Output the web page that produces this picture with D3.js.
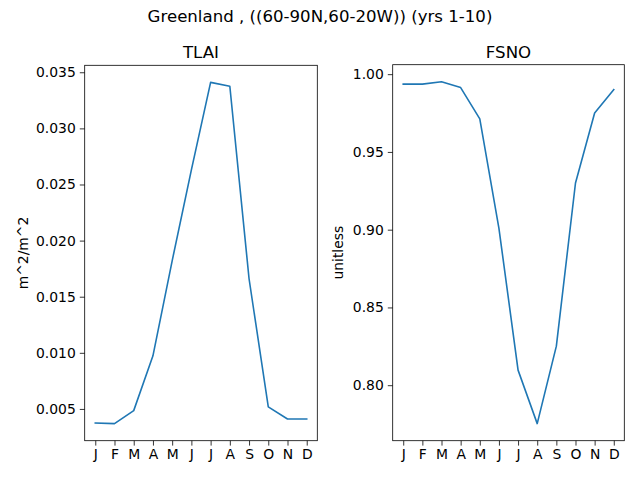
<!DOCTYPE html>
<html>
<head>
<meta charset="utf-8">
<script src="https://cdn.jsdelivr.net/npm/d3@7"></script>
<style>
  body { margin: 0; background: #fff; }
  text { font-family: "DejaVu Sans", sans-serif; fill: #000; }
</style>
</head>
<body>
<div id="chart"></div>
<script>
// monthly climatology, Greenland box
const months = ["J", "F", "M", "A", "M", "J", "J", "A", "S", "O", "N", "D"];
const tlai = [0.00375, 0.00369, 0.00485, 0.00973, 0.0182, 0.0263, 0.0341, 0.03375, 0.0166, 0.00518, 0.0041, 0.0041];
const fsno = [0.9936, 0.9936, 0.9951, 0.9914, 0.9713, 0.9009, 0.8097, 0.7753, 0.8251, 0.930, 0.975, 0.9901];
const tlaiTicks = [0.005, 0.010, 0.015, 0.020, 0.025, 0.030, 0.035];
const fsnoTicks = [0.80, 0.85, 0.90, 0.95, 1.00];

const W = 640, H = 480;
const svg = d3.select("#chart").append("svg")
    .attr("width", W)
    .attr("height", H);

svg.append("text")
    .attr("x", W / 2)
    .attr("y", 22)
    .attr("text-anchor", "middle")
    .attr("font-size", "16.6px")
    .text("Greenland , ((60-90N,60-20W)) (yrs 1-10)");

function panel(opts) {
    const {left, right, top, bottom, values, ticks, fmt, title, ylabel, ylabelX} = opts;

    // matplotlib style 5% margins
    const lo = d3.min(values), hi = d3.max(values), pad = (hi - lo) * 0.05;
    const x = d3.scaleLinear().domain([-0.55, 11.55]).range([left, right]);
    const y = d3.scaleLinear().domain([lo - pad, hi + pad]).range([bottom, top]);

    const g = svg.append("g");

    g.append("g")
        .attr("transform", `translate(0,${bottom})`)
        .call(d3.axisBottom(x).tickValues(d3.range(12))
            .tickFormat(i => months[i]).tickSize(4.9).tickPadding(4))
        .call(a => a.select(".domain").remove())
        .call(a => a.selectAll("text").attr("font-size", "13.9px")
            .attr("font-family", "DejaVu Sans").attr("fill", "#000"))
        .call(a => a.selectAll("line").attr("stroke", "#000").attr("stroke-width", 0.8));

    g.append("g")
        .attr("transform", `translate(${left},0)`)
        .call(d3.axisLeft(y).tickValues(ticks).tickFormat(fmt)
            .tickSize(4.9).tickPadding(4))
        .call(a => a.select(".domain").remove())
        .call(a => a.selectAll("text").attr("font-size", "13.9px")
            .attr("font-family", "DejaVu Sans").attr("fill", "#000"))
        .call(a => a.selectAll("line").attr("stroke", "#000").attr("stroke-width", 0.8));

    const line = d3.line()
        .x((d, i) => x(i))
        .y(d => y(d));

    g.append("path")
        .datum(values)
        .attr("fill", "none")
        .attr("stroke", "#1f77b4")
        .attr("stroke-width", 1.6)
        .attr("stroke-linejoin", "round")
        .attr("stroke-linecap", "square")
        .attr("d", line);

    g.append("rect")
        .attr("x", left)
        .attr("y", top)
        .attr("width", right - left)
        .attr("height", bottom - top)
        .attr("fill", "none")
        .attr("stroke", "#000")
        .attr("stroke-width", 0.8);

    g.append("text")
        .attr("x", (left + right) / 2)
        .attr("y", top - 7)
        .attr("text-anchor", "middle")
        .attr("font-size", "16.6px")
        .text(title);

    g.append("text")
        .attr("transform", `translate(${ylabelX},${(top + bottom) / 2}) rotate(-90)`)
        .attr("text-anchor", "middle")
        .attr("font-size", "13.9px")
        .text(ylabel);
}

panel({
    left: 84.7, right: 317.3, top: 65.3, bottom: 440.7,
    values: tlai, ticks: tlaiTicks, fmt: d3.format(".3f"),
    title: "TLAI", ylabel: "m^2/m^2", ylabelX: 28
});

panel({
    left: 392.7, right: 624.3, top: 64.7, bottom: 440.7,
    values: fsno, ticks: fsnoTicks, fmt: d3.format(".2f"),
    title: "FSNO", ylabel: "unitless", ylabelX: 343
});
</script>
</body>
</html>
